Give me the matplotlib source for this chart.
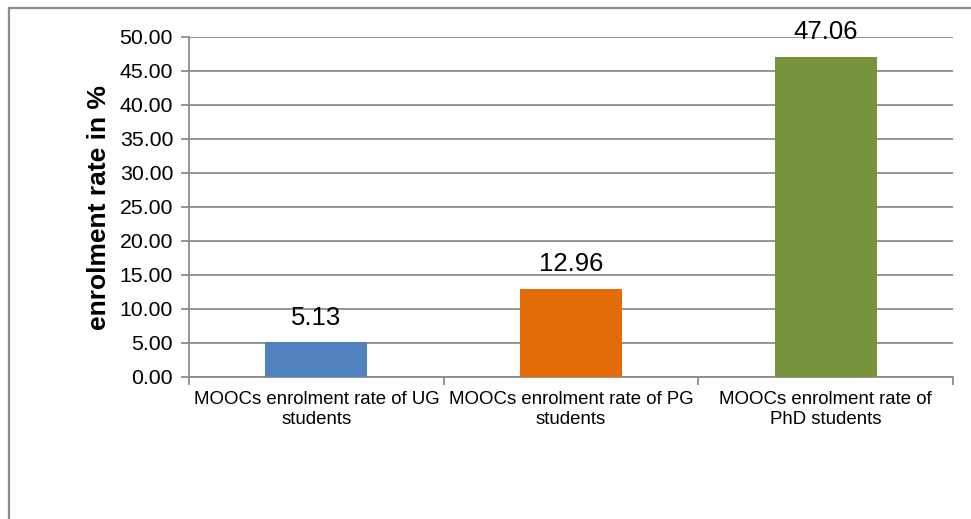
import matplotlib
matplotlib.use("Agg")
import matplotlib.pyplot as plt
from matplotlib.patches import Rectangle

plt.rcParams['font.family'] = ['Liberation Sans', 'DejaVu Sans']

categories = [
    "MOOCs enrolment rate of UG\nstudents",
    "MOOCs enrolment rate of PG\nstudents",
    "MOOCs enrolment rate of\nPhD students",
]
values = [5.13, 12.96, 47.06]
colors = ["#4F81BD", "#E36C09", "#77933C"]
yticks = [0, 5, 10, 15, 20, 25, 30, 35, 40, 45, 50]
ylabel = "enrolment rate in %"

W, H = 971, 519
fig = plt.figure(figsize=(W / 100, H / 100), dpi=100)

# outer chart frame (extends past right/bottom edges)
fig.patches.append(Rectangle((9 / W, -0.1), 1.2, 1 - 8 / H + 0.1,
                             transform=fig.transFigure, fill=False,
                             edgecolor="#8C8C8C", linewidth=1.6, zorder=0))

ax = fig.add_axes([189 / W, 1 - 377 / H, (953 - 189) / W, (377 - 37) / H])

x = list(range(len(values)))
ax.bar(x, values, width=0.4, color=colors, zorder=3)
ax.set_xlim(-0.5, len(values) - 0.5)
ax.set_ylim(0, 50)
ax.set_yticks(yticks)
ax.set_yticklabels([f"{v:.2f}" for v in yticks], fontsize=15.3)
ax.yaxis.grid(True, color="#8C8C8C", linewidth=1.3, zorder=0)
ax.set_axisbelow(True)

ax.set_xticks([i + 0.5 for i in range(-1, len(values))], minor=False)
ax.set_xticklabels([])
ax.set_xticks(x, minor=True)
ax.set_xticklabels(categories, minor=True, fontsize=13.4, linespacing=1.25)
ax.tick_params(axis="x", which="minor", length=0, pad=10)
ax.tick_params(axis="x", which="major", length=6, color="#8C8C8C", width=1.3)
ax.tick_params(axis="y", length=6, color="#8C8C8C", width=1.3, pad=5.5)

for side in ("top", "right"):
    ax.spines[side].set_visible(False)
for side in ("left", "bottom"):
    ax.spines[side].set_color("#8C8C8C")
    ax.spines[side].set_linewidth(1.3)

for xi, v in zip(x, values):
    ax.annotate(f"{v:.2f}", (xi, v), xytext=(0, 9), textcoords="offset points",
                ha="center", va="bottom", fontsize=18.5)

ax.set_ylabel(ylabel, fontsize=19, fontweight="bold", labelpad=6)

fig.savefig("out.png", dpi=100)
